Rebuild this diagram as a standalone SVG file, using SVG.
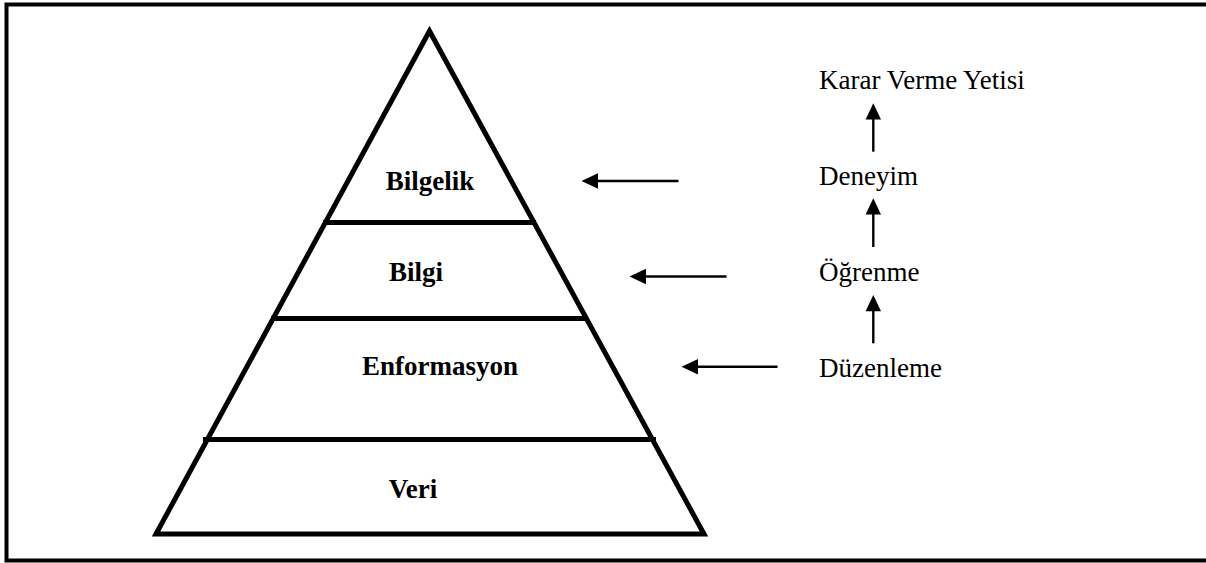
<svg xmlns="http://www.w3.org/2000/svg" width="1206" height="563" viewBox="0 0 1206 563">
  <style>
    .lbl { font-family: "Liberation Serif", "Times New Roman", serif; font-size: 27px; font-weight: bold; fill: #000; text-anchor: middle; }
    .side { font-family: "Liberation Serif", "Times New Roman", serif; font-size: 27px; fill: #000; }
    .pyr { fill: none; stroke: #000; stroke-width: 5; }
    .arr { stroke: #000; stroke-width: 2.4; fill: none; }
    .head { fill: #000; }
  </style>
  <rect x="0" y="0" width="1206" height="563" fill="#fff"/>
  <rect x="6.5" y="4.5" width="1210" height="556" fill="none" stroke="#000" stroke-width="4"/>

  <g id="pyramid">
    <polygon class="pyr" points="429.5,31 156,534 704,534"/>
    <line class="pyr" x1="323" y1="222.5" x2="536" y2="222.5"/>
    <line class="pyr" x1="271" y1="318.5" x2="588" y2="318.5"/>
    <line class="pyr" x1="203" y1="439.5" x2="656" y2="439.5"/>
  </g>

  <g id="node-bilgelik"><text class="lbl" x="430" y="190">Bilgelik</text></g>
  <g id="node-bilgi"><text class="lbl" x="416" y="281">Bilgi</text></g>
  <g id="node-enformasyon"><text class="lbl" x="440" y="375">Enformasyon</text></g>
  <g id="node-veri"><text class="lbl" x="413" y="498">Veri</text></g>

  <g id="node-karar"><text class="side" x="819" y="89">Karar Verme Yetisi</text></g>
  <g id="node-deneyim"><text class="side" x="819" y="185">Deneyim</text></g>
  <g id="node-ogrenme"><text class="side" x="819" y="281">Öğrenme</text></g>
  <g id="node-duzenleme"><text class="side" x="819" y="377">Düzenleme</text></g>

  <g id="connectors">
    <line class="arr" x1="678.5" y1="181" x2="596" y2="181"/>
    <polygon class="head" points="581.5,181 598,173.3 598,188.7"/>
    <line class="arr" x1="726.5" y1="276.5" x2="644" y2="276.5"/>
    <polygon class="head" points="629.5,276.5 646,268.8 646,284.2"/>
    <line class="arr" x1="777.5" y1="366.7" x2="696" y2="366.7"/>
    <polygon class="head" points="681.5,366.7 698,359 698,374.4"/>

    <line class="arr" x1="873.3" y1="151.7" x2="873.3" y2="117"/>
    <polygon class="head" points="873.3,103.3 865.6,119.5 881,119.5"/>
    <line class="arr" x1="873.3" y1="247" x2="873.3" y2="212"/>
    <polygon class="head" points="873.3,198.3 865.6,214.5 881,214.5"/>
    <line class="arr" x1="873.3" y1="343.3" x2="873.3" y2="309"/>
    <polygon class="head" points="873.3,295 865.6,311.2 881,311.2"/>
  </g>
</svg>
